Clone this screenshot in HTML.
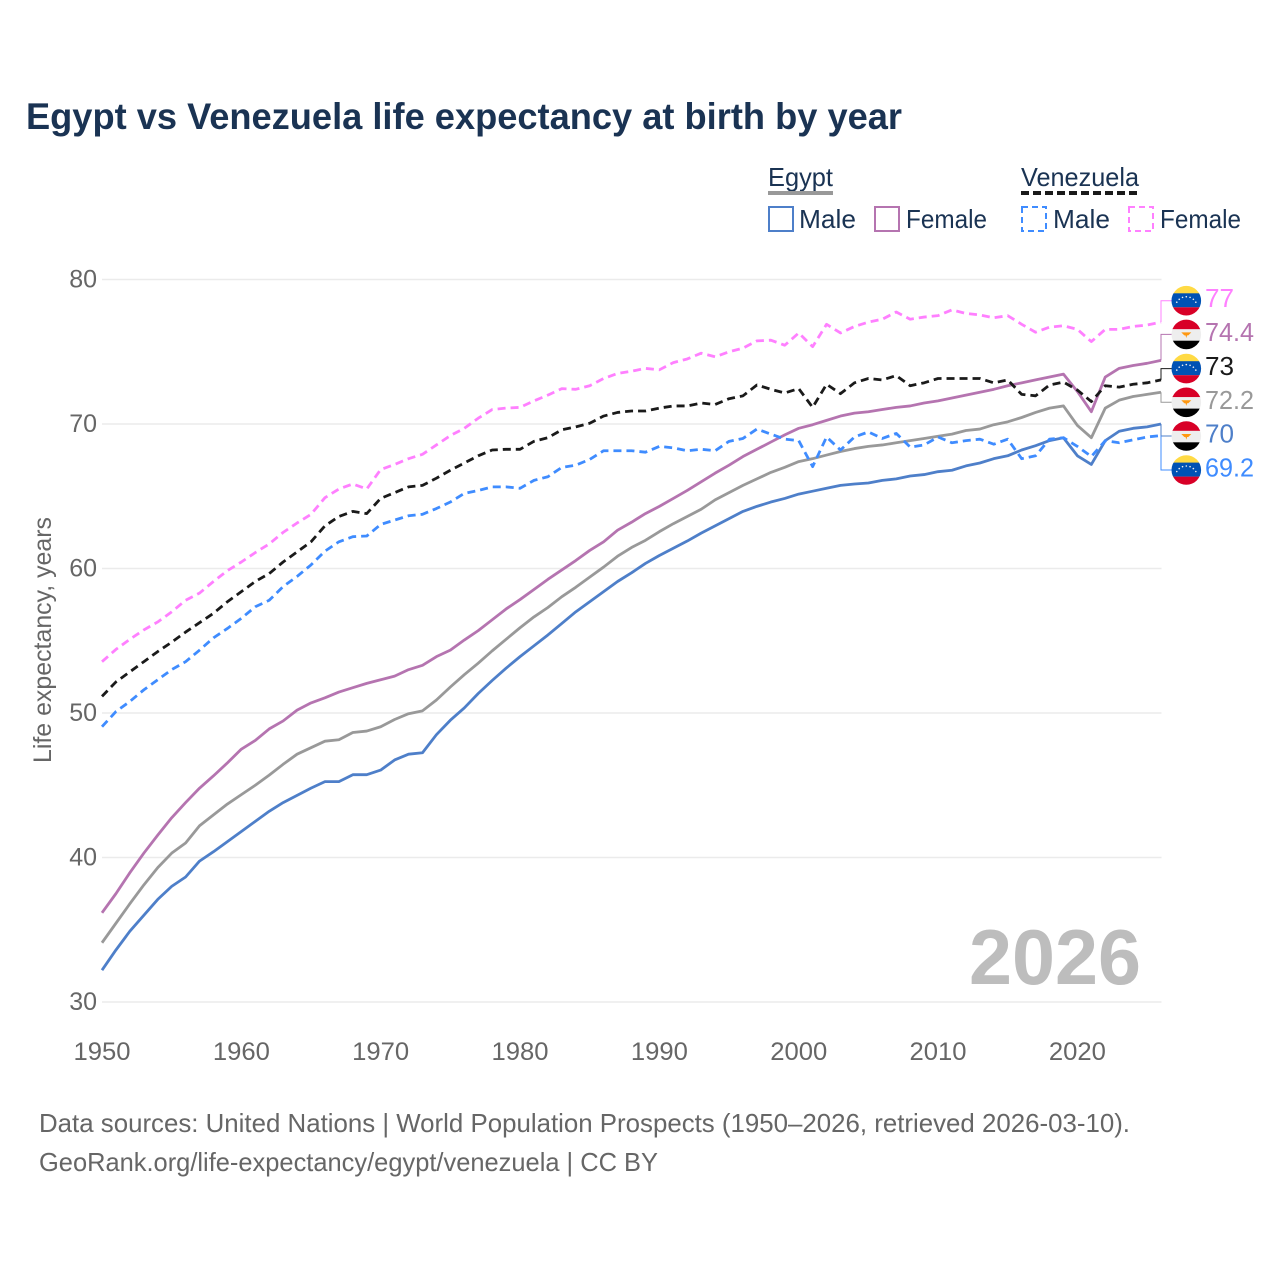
<!DOCTYPE html>
<html lang="en">
<head>
<meta charset="utf-8">
<title>Egypt vs Venezuela life expectancy at birth by year</title>
<style>
html,body{margin:0;padding:0;background:#fff;width:1280px;height:1280px;overflow:hidden}
svg{display:block;font-family:"Liberation Sans",sans-serif}
</style>
</head>
<body>
<svg id="chart" xmlns="http://www.w3.org/2000/svg" width="1280" height="1280" viewBox="0 0 1280 1280">
  <rect x="0" y="0" width="1280" height="1280" fill="#fff"/>
  <text x="26" y="129" font-size="37" font-weight="700" fill="#1a3353" textLength="876" lengthAdjust="spacingAndGlyphs">Egypt vs Venezuela life expectancy at birth by year</text>

  <g font-size="26" fill="#1a3353">
    <text x="768" y="186" textLength="65" lengthAdjust="spacingAndGlyphs">Egypt</text>
    <line x1="768" x2="833" y1="193" y2="193" stroke="#999" stroke-width="4"/>
    <text x="1021" y="186" textLength="118" lengthAdjust="spacingAndGlyphs">Venezuela</text>
    <line x1="1021" x2="1139" y1="193" y2="193" stroke="#1a1a1a" stroke-width="4" stroke-dasharray="8 4"/>
    <g>
      <rect x="769" y="207" width="24" height="24" fill="none" stroke="#4e7fc9" stroke-width="2"/>
      <text x="799" y="228" textLength="57" lengthAdjust="spacingAndGlyphs">Male</text>
    </g>
    <g>
      <rect x="875" y="207" width="24" height="24" fill="none" stroke="#b574b0" stroke-width="2"/>
      <text x="906" y="228" textLength="81" lengthAdjust="spacingAndGlyphs">Female</text>
    </g>
    <g>
      <rect x="1022" y="207" width="24" height="24" fill="none" stroke="#3f8cff" stroke-width="2" stroke-dasharray="6 4"/>
      <text x="1053" y="228" textLength="57" lengthAdjust="spacingAndGlyphs">Male</text>
    </g>
    <g>
      <rect x="1129" y="207" width="24" height="24" fill="none" stroke="#ff80ff" stroke-width="2" stroke-dasharray="6 4"/>
      <text x="1160" y="228" textLength="81" lengthAdjust="spacingAndGlyphs">Female</text>
    </g>
  </g>

  <g id="grid"></g>
  <g id="yticks"></g>
  <g id="xticks"></g>
  <text transform="translate(51,763) rotate(-90)" font-size="25" fill="#666" textLength="246" lengthAdjust="spacingAndGlyphs">Life expectancy, years</text>
  <text x="969" y="984" font-size="78" font-weight="700" fill="#bdbdbd" textLength="172" lengthAdjust="spacingAndGlyphs">2026</text>
  <g id="leaders"></g>
  <g id="series"></g>
  <g id="endlabels"></g>

  <text x="39" y="1132" font-size="26" fill="#666" textLength="1091" lengthAdjust="spacingAndGlyphs">Data sources: United Nations | World Population Prospects (1950–2026, retrieved 2026-03-10).</text>
  <text x="39" y="1171" font-size="26" fill="#666" textLength="619" lengthAdjust="spacingAndGlyphs">GeoRank.org/life-expectancy/egypt/venezuela | CC BY</text>
</svg>
<script>
const startYear = 1950;
const endYear = 2026;
const yTicks = [30, 40, 50, 60, 70, 80];
const xTicks = [1950, 1960, 1970, 1980, 1990, 2000, 2010, 2020];

const egyptMale = [32.2,33.6,34.9,36.0,37.1,38.0,38.65,39.75,40.4,41.1,41.8,42.5,43.2,43.8,44.3,44.8,45.25,45.25,45.73,45.73,46.05,46.75,47.15,47.25,48.5,49.5,50.35,51.35,52.25,53.1,53.9,54.65,55.4,56.2,57.0,57.7,58.4,59.1,59.7,60.35,60.9,61.4,61.9,62.45,62.95,63.45,63.95,64.3,64.6,64.85,65.15,65.35,65.55,65.75,65.85,65.92,66.1,66.2,66.4,66.5,66.7,66.8,67.1,67.3,67.6,67.8,68.2,68.5,68.85,69.05,67.8,67.2,68.85,69.5,69.7,69.8,70.0];
const egyptFemale = [36.17,37.5,38.95,40.3,41.55,42.75,43.8,44.8,45.65,46.55,47.5,48.1,48.9,49.45,50.2,50.7,51.05,51.45,51.75,52.05,52.3,52.55,53.0,53.3,53.9,54.35,55.05,55.7,56.45,57.2,57.85,58.55,59.25,59.9,60.55,61.25,61.85,62.65,63.2,63.8,64.3,64.85,65.4,66.0,66.6,67.15,67.75,68.25,68.75,69.25,69.7,69.95,70.25,70.55,70.75,70.85,71.0,71.15,71.25,71.45,71.6,71.8,72.0,72.2,72.4,72.65,72.85,73.05,73.25,73.45,72.25,70.85,73.25,73.85,74.05,74.2,74.4];
const egyptTotal = [34.1,35.45,36.8,38.1,39.3,40.3,41.0,42.2,42.95,43.7,44.35,45.0,45.7,46.45,47.15,47.6,48.05,48.15,48.65,48.75,49.05,49.55,49.95,50.15,50.9,51.8,52.65,53.45,54.3,55.1,55.9,56.65,57.3,58.05,58.7,59.4,60.1,60.85,61.45,61.95,62.55,63.1,63.6,64.1,64.75,65.25,65.75,66.2,66.65,67.0,67.4,67.6,67.85,68.1,68.3,68.45,68.55,68.7,68.85,69.0,69.15,69.3,69.55,69.65,69.95,70.15,70.45,70.8,71.1,71.25,69.9,69.05,71.1,71.65,71.9,72.05,72.2];
const venezuelaMale = [49.05,50.1,50.8,51.6,52.3,53.0,53.55,54.35,55.2,55.85,56.55,57.35,57.8,58.75,59.45,60.25,61.2,61.85,62.2,62.25,63.05,63.35,63.65,63.75,64.15,64.6,65.2,65.4,65.65,65.65,65.55,66.1,66.35,67.0,67.15,67.55,68.15,68.15,68.15,68.05,68.45,68.35,68.15,68.25,68.15,68.8,69.0,69.65,69.3,68.95,68.85,67.05,69.1,68.2,69.1,69.45,69.0,69.35,68.4,68.55,69.1,68.7,68.85,68.95,68.6,68.95,67.6,67.8,68.95,69.05,68.45,67.75,68.85,68.7,68.9,69.1,69.2];
const venezuelaTotal = [51.15,52.15,52.85,53.55,54.25,54.9,55.6,56.25,56.9,57.7,58.4,59.1,59.65,60.45,61.15,61.85,62.95,63.6,63.95,63.8,64.85,65.25,65.65,65.75,66.25,66.8,67.3,67.8,68.2,68.25,68.25,68.8,69.05,69.6,69.8,70.05,70.55,70.8,70.9,70.9,71.1,71.25,71.25,71.45,71.35,71.75,71.95,72.7,72.4,72.15,72.45,71.15,72.75,72.1,72.85,73.15,73.05,73.35,72.65,72.85,73.15,73.15,73.15,73.15,72.85,73.05,72.05,71.95,72.7,72.9,72.35,71.55,72.65,72.55,72.75,72.85,73.05];
const venezuelaFemale = [53.55,54.4,55.1,55.75,56.3,57.0,57.8,58.3,59.1,59.85,60.45,61.1,61.7,62.5,63.15,63.75,64.9,65.5,65.85,65.5,66.85,67.2,67.6,67.9,68.55,69.2,69.7,70.4,71.0,71.1,71.15,71.6,72.0,72.45,72.4,72.65,73.15,73.5,73.65,73.85,73.75,74.25,74.5,74.9,74.65,75.0,75.25,75.75,75.8,75.45,76.3,75.35,76.9,76.3,76.75,77.05,77.25,77.75,77.25,77.4,77.5,77.9,77.65,77.55,77.35,77.5,76.9,76.35,76.7,76.8,76.55,75.7,76.55,76.55,76.75,76.85,77.05];

const endLabels = ['77', '74.4', '73', '72.2', '70', '69.2'];

const NS = 'http://www.w3.org/2000/svg';
function xScale(year) { return 102 + (year - startYear) * (1161 - 102) / (endYear - startYear); }
function yScale(v) { return 1002 - (v - 30) * (1002 - 279.5) / 50; }
function mk(tag, attrs, parent) {
  const e = document.createElementNS(NS, tag);
  for (const k in attrs) e.setAttribute(k, attrs[k]);
  parent.appendChild(e);
  return e;
}

const gridG = document.getElementById('grid');
const yG = document.getElementById('yticks');
yTicks.forEach(function (t) {
  const g = mk('line', {x1: 102, x2: 1161.5, y1: yScale(t), y2: yScale(t), stroke: '#ebebeb', 'stroke-width': 1.5}, gridG);
  
  
  const l = mk('text', {x: 97, y: yScale(t) + 8, 'font-size': 25, fill: '#666', 'text-anchor': 'end'}, yG);
  
  
  l.textContent = t;
});
const xG = document.getElementById('xticks');
xTicks.forEach(function (t) {
  const l = mk('text', {x: xScale(t), y: 1060, 'font-size': 25, fill: '#666', 'text-anchor': 'middle', textLength: 57, lengthAdjust: 'spacingAndGlyphs'}, xG);
  
  
  l.textContent = t;
});

function drawLine(values, color, dash, name) {
  let d = '';
  values.forEach(function (v, i) {
    d += (i ? 'L' : 'M') + xScale(startYear + i).toFixed(2) + ' ' + yScale(v).toFixed(2);
  });
  const p = mk('path', {d: d, fill: 'none', stroke: color, 'stroke-width': 2.8, 'stroke-linejoin': 'round'}, document.getElementById('series'));
  if (dash) p.setAttribute('stroke-dasharray', dash);
  
  
}
drawLine(egyptTotal, '#999999', null, 'line-egypt-total');
drawLine(egyptFemale, '#b574b0', null, 'line-egypt-female');
drawLine(egyptMale, '#4e7fc9', null, 'line-egypt-male');
drawLine(venezuelaFemale, '#ff80ff', '8 5', 'line-venezuela-female');
drawLine(venezuelaTotal, '#1a1a1a', '8 5', 'line-venezuela-total');
drawLine(venezuelaMale, '#3f8cff', '8 5', 'line-venezuela-male');

const labelRows = [
  {c: '#ff80ff', s: venezuelaFemale, f: 'v', y: 300.7},
  {c: '#b574b0', s: egyptFemale, f: 'e', y: 334.4},
  {c: '#1a1a1a', s: venezuelaTotal, f: 'v', y: 368.6},
  {c: '#999999', s: egyptTotal, f: 'e', y: 402.3},
  {c: '#4e7fc9', s: egyptMale, f: 'e', y: 436},
  {c: '#3f8cff', s: venezuelaMale, f: 'v', y: 470}
];
const defs = mk('defs', {}, document.getElementById('chart'));
const leadG = document.getElementById('leaders');
const endG = document.getElementById('endlabels');
labelRows.forEach(function (r, i) {
  const endY = yScale(r.s[r.s.length - 1]);
  const ld = mk('path', {d: 'M1161 ' + endY.toFixed(1) + 'V' + r.y + 'H1176', fill: 'none', stroke: r.c, 'stroke-width': 1}, leadG);
  
  

  const cp = mk('clipPath', {id: 'clip' + i}, defs);
  mk('circle', {cx: 1186.3, cy: r.y, r: 14.8}, cp);
  const g = mk('g', {'clip-path': 'url(#clip' + i + ')'}, endG);
  
  
  const x0 = 1171, w = 31;
  if (r.f === 'v') {
    mk('rect', {x: x0, y: r.y - 16, width: w, height: 9, fill: '#ffda44'}, g);
    mk('rect', {x: x0, y: r.y - 7.4, width: w, height: 14, fill: '#0052b4'}, g);
    mk('rect', {x: x0, y: r.y + 6.6, width: w, height: 9, fill: '#d80027'}, g);
    for (let a = -60; a <= 60; a += 20) {
      const rad = a * Math.PI / 180;
      mk('circle', {cx: 1186.3 + 11 * Math.sin(rad), cy: r.y + 7 - 11 * Math.cos(rad), r: 0.8, fill: '#f0f0f0'}, g);
    }
  } else {
    mk('rect', {x: x0, y: r.y - 16, width: w, height: 11, fill: '#d80027'}, g);
    mk('rect', {x: x0, y: r.y - 5.2, width: w, height: 11.5, fill: '#eeeeee'}, g);
    mk('rect', {x: x0, y: r.y + 6.3, width: w, height: 10, fill: '#000000'}, g);
    mk('path', {d: 'M' + (1186.3 - 5) + ' ' + (r.y - 2) + 'h10l-3 3h-1.2l-0.8 2.6l-0.8 -2.6h-1.200z', fill: '#ff9811'}, g);
  }
  const tx = mk('text', {x: 1205, y: r.y + 6.5, 'font-size': 26, fill: r.c}, endG);
  
  
  tx.setAttribute('textLength', endLabels[i].length > 2 ? 49 : 29);
  tx.setAttribute('lengthAdjust', 'spacingAndGlyphs');
  tx.textContent = endLabels[i];
});
</script>
</body>
</html>
